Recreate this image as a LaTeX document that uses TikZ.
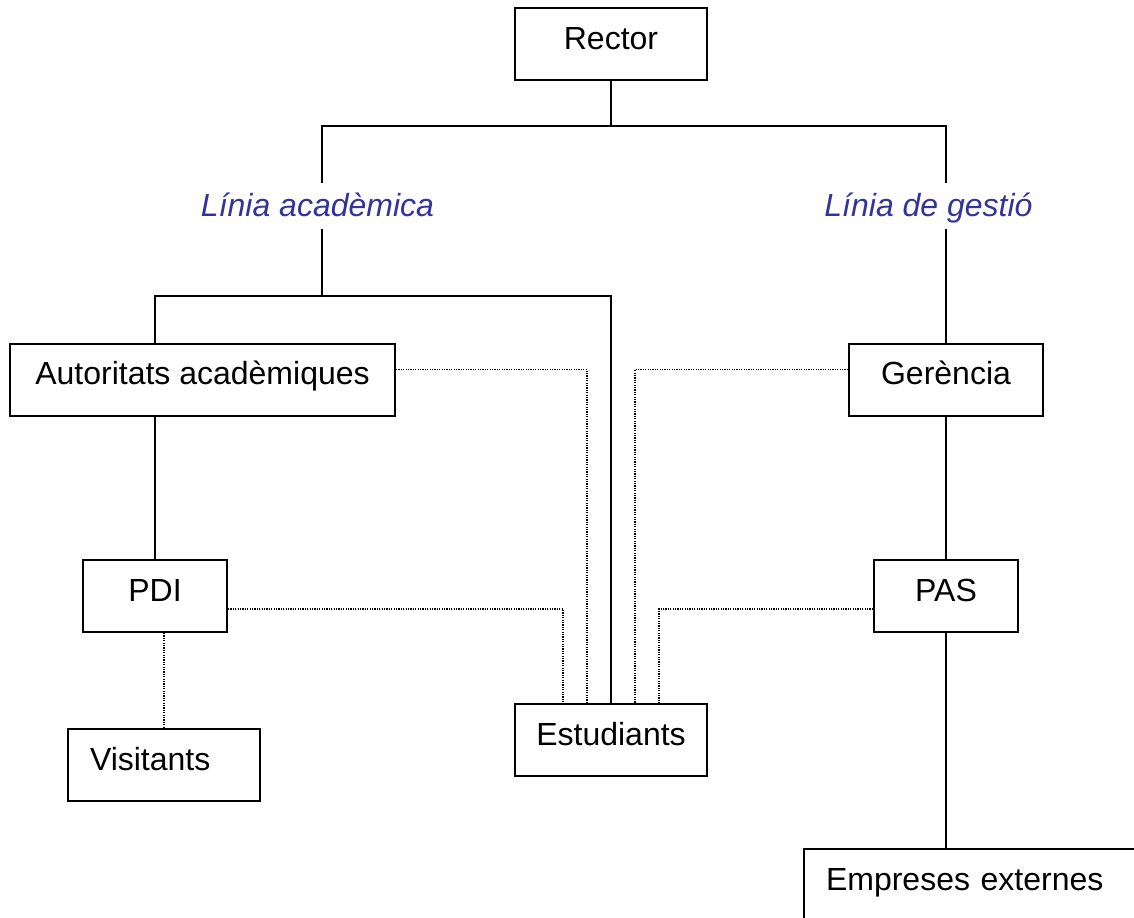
\documentclass[tikz,border=0pt]{standalone}
\usepackage{fontspec}
\setmainfont{Liberation Sans}
\definecolor{blaulinia}{RGB}{51,51,153}

\begin{document}
\begin{tikzpicture}[x=0.5pt,y=-0.5pt]
\tikzstyle{caixa}=[draw,line width=1pt,inner ysep=0pt,text height=20.5pt,text depth=15.5pt,font=\fontsize{16}{19}\selectfont]
\tikzstyle{linia}=[text=blaulinia,font=\fontsize{16}{19}\selectfont\itshape,inner sep=4.5pt,text height=12pt,text depth=2pt]
\tikzstyle{tronc}=[line width=1pt]
\tikzstyle{puntejat}=[line width=0.6pt,dash pattern=on 0.6pt off 0.6pt]
\useasboundingbox (0,0) rectangle (1134,917);

% caixes
\node[caixa,minimum width=96pt] (rector) at (611,44) {Rector};
\node[linia,anchor=base] (academica) at (317.5,216) {Línia acadèmica};
\node[linia,anchor=base] (gestio) at (928.5,216) {Línia de gestió};
\node[caixa,minimum width=192.5pt] (autoritats) at (202.5,379.5) {Autoritats acadèmiques};
\node[caixa,minimum width=97pt] (gerencia) at (946,379.5) {Gerència};
\node[caixa,minimum width=72pt] (pdi) at (155,596) {PDI};
\node[caixa,minimum width=72pt] (pas) at (946,596) {PAS};
\node[caixa,inner xsep=11pt,text width=74pt,align=left] (visitants) at (164,765) {Visitants};
\node[caixa,minimum width=96pt] (estudiants) at (611,740) {Estudiants};
\node[caixa,anchor=north west,inner xsep=11pt,text width=178pt,align=left] (empreses) at (803,848) {Empreses externes};

% linies
\coordinate (forca) at (611,126);
\coordinate (barra) at (322,296);
\draw[tronc] (rector.south) -- (forca);
\draw[tronc] (academica.north -| barra) |- (forca) -| (gestio.north -| gerencia.north);
\draw[tronc] (academica.south -| barra) -- (barra);
\draw[tronc] (autoritats.north -| pdi.north) |- (barra) -| (estudiants.north);
\draw[tronc] (autoritats.south -| pdi.north) -- (pdi.north);
\draw[tronc] (gestio.south -| gerencia.north) -- (gerencia.north);
\draw[tronc] (gerencia.south) -- (pas.north);
\draw[tronc] (pas.south) -- (pas.south |- empreses.north);

% relacions puntejades
\draw[puntejat] (pdi.south -| visitants.north) -- (visitants.north);
\draw[puntejat] ([yshift=5pt]autoritats.east) -| ([xshift=-12pt]estudiants.north);
\draw[puntejat] ([yshift=-6.5pt]pdi.east) -| ([xshift=-24pt]estudiants.north);
\draw[puntejat] ([yshift=5pt]gerencia.west) -| ([xshift=12pt]estudiants.north);
\draw[puntejat] ([yshift=-6.5pt]pas.west) -| ([xshift=24pt]estudiants.north);
\end{tikzpicture}
\end{document}
